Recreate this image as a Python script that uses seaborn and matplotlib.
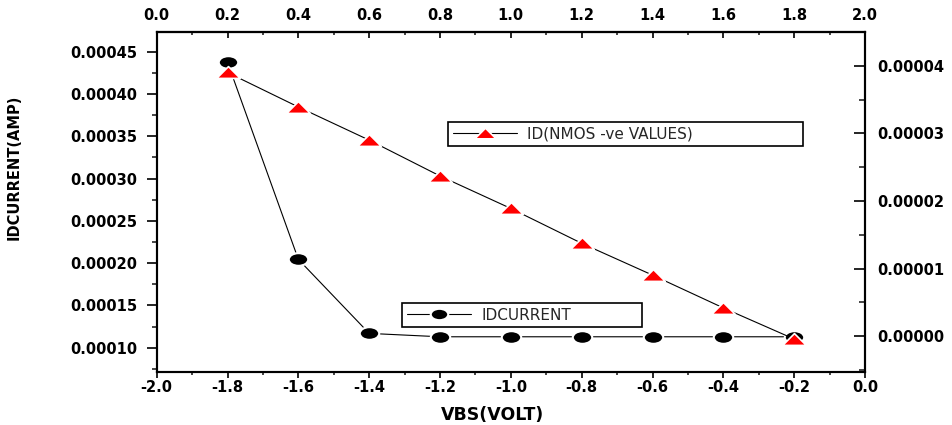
import matplotlib
matplotlib.use('Agg')
import matplotlib.pyplot as plt
from matplotlib.path import Path
from matplotlib.ticker import MultipleLocator, FuncFormatter
import seaborn as sns

sns.set_theme(style='ticks')
plt.rcParams['font.family'] = ['DejaVu Sans']
plt.rcParams['font.weight'] = 'bold'
plt.rcParams['axes.labelweight'] = 'bold'

# -----------------------------------------------------------------------------
# Data
# -----------------------------------------------------------------------------
vbs = [-1.8, -1.6, -1.4, -1.2, -1.0, -0.8, -0.6, -0.4, -0.2]
id_current = [0.0004375, 0.0002045, 0.000117, 0.000113, 0.000113,
              0.000113, 0.000113, 0.000113, 0.000113]
id_nmos_neg = [3.90e-5, 3.39e-5, 2.90e-5, 2.37e-5, 1.89e-5,
               1.375e-5, 0.905e-5, 0.42e-5, -0.04e-5]

# Origin-like flattened markers
circ = Path.unit_circle()
ellipse = Path(circ.vertices * [1, 0.65], circ.codes)
flat_tri = Path([(-1, -0.5), (1, -0.5), (0, 0.5), (-1, -0.5)],
                [Path.MOVETO, Path.LINETO, Path.LINETO, Path.CLOSEPOLY])


def fmt(nd):
    def f(x, pos):
        if abs(x) < 1e-12:
            x = 0.0
        return '{:.{}f}'.format(x, nd)
    return FuncFormatter(f)


fig = plt.figure(figsize=(9.52, 4.25), dpi=100)
ax = fig.add_axes([0.1646, 0.1254, 0.744, 0.7986])
ax2 = ax.twinx()

sns.lineplot(x=vbs, y=id_current, ax=ax, color='black', lw=0.8,
             marker=ellipse, ms=14, mfc='black', mec='white', mew=1.5,
             legend=False)
h_black = ax.lines[-1]
h_black.set_label('IDCURRENT')

sns.lineplot(x=vbs, y=id_nmos_neg, ax=ax2, color='black', lw=0.8,
             marker=flat_tri, ms=17, mfc='red', mec='white', mew=1.2,
             legend=False)
h_red = ax2.lines[-1]
h_red.set_label('ID(NMOS -ve VALUES)')

ax.set_xlim(-2.0, 0.0)
ax.set_ylim(0.0000717, 0.000473)
ax2.set_ylim(-0.523e-5, 4.494e-5)

# bottom axis
ax.xaxis.set_major_locator(MultipleLocator(0.2))
ax.xaxis.set_minor_locator(MultipleLocator(0.1))
ax.xaxis.set_major_formatter(fmt(1))
ax.tick_params(axis='x', which='major', direction='out', length=4, width=1.2,
               pad=2, labelsize=10.5, colors='black')
ax.tick_params(axis='x', which='minor', direction='out', length=2.5, width=1.2)

# left axis
ax.yaxis.set_major_locator(MultipleLocator(0.00005))
ax.yaxis.set_minor_locator(MultipleLocator(0.000025))
ax.yaxis.set_major_formatter(fmt(5))
ax.tick_params(axis='y', which='major', direction='out', length=7, width=1.2,
               pad=7, labelsize=10.5, colors='black')
ax.tick_params(axis='y', which='minor', direction='out', length=3.5, width=1.2)

# right axis
ax2.yaxis.set_major_locator(MultipleLocator(0.00001))
ax2.yaxis.set_minor_locator(MultipleLocator(0.000005))
ax2.yaxis.set_major_formatter(fmt(5))
ax2.tick_params(axis='y', which='major', direction='in', length=8, width=1.2,
                pad=8.5, labelsize=10.5, colors='black')
ax2.tick_params(axis='y', which='minor', direction='in', length=4, width=1.2)

# top axis
secax = ax.secondary_xaxis('top', functions=(lambda x: x + 2, lambda x: x - 2))
secax.xaxis.set_major_locator(MultipleLocator(0.2))
secax.xaxis.set_minor_locator(MultipleLocator(0.1))
secax.xaxis.set_major_formatter(fmt(1))
secax.tick_params(which='major', direction='in', length=4, width=1.2,
                  pad=6.5, labelsize=10.5, colors='black')
secax.tick_params(which='minor', direction='in', length=2, width=1.2)

for a in (ax, ax2):
    for sp in a.spines.values():
        sp.set_linewidth(1.5)
        sp.set_color('black')
for sp in secax.spines.values():
    sp.set_linewidth(1.5)
    sp.set_color('black')

ax.set_xlabel('VBS(VOLT)', fontsize=12.5, fontweight='bold', color='black',
              va='center')
ax.xaxis.set_label_coords(0.474, -0.128)
ax.set_ylabel('IDCURRENT(AMP)', fontsize=10.5, fontweight='bold', color='black')
ax.yaxis.set_label_coords(-0.190, 0.6017)

leg_kw = dict(loc='upper left', mode='expand', borderaxespad=0,
              bbox_transform=fig.transFigure, numpoints=1, markerscale=0.9,
              handlelength=4.2, handletextpad=0.7, borderpad=0.3,
              fancybox=False, framealpha=1, edgecolor='black',
              prop=dict(size=11, weight='normal'))

leg1 = ax.legend(handles=[h_black], bbox_to_anchor=(0.4223, 0.2871, 0.2521, 0),
                 **leg_kw)
leg1.get_frame().set_linewidth(1.2)
leg2 = ax2.legend(handles=[h_red], bbox_to_anchor=(0.4706, 0.7129, 0.3729, 0),
                  **leg_kw)
leg2.get_frame().set_linewidth(1.2)

fig.savefig('out.png', dpi=100)
